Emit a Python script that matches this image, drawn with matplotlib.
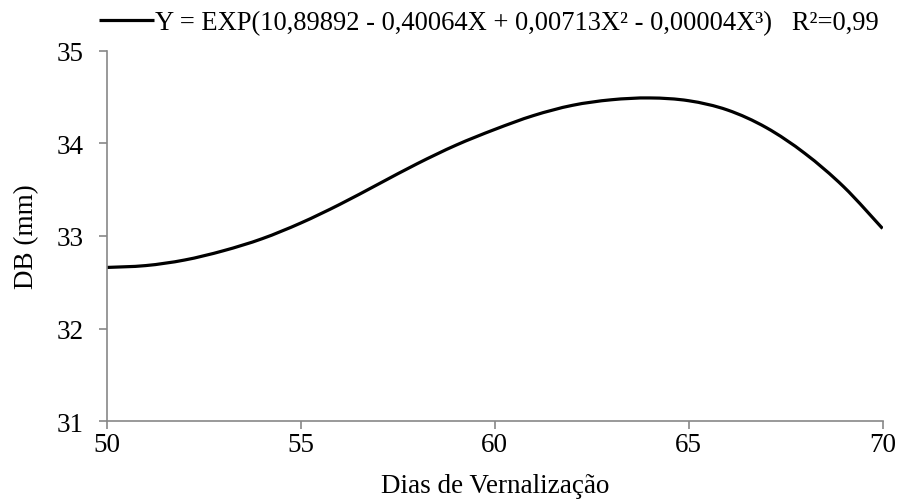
import matplotlib
matplotlib.use('Agg')
import matplotlib.pyplot as plt
from matplotlib.path import Path
from matplotlib.patches import PathPatch
from matplotlib.lines import Line2D

plt.rcParams['font.family'] = ['Liberation Serif', 'DejaVu Serif']

# Dias de vernalização x diâmetro de bulbo (curva ajustada)
dias = [50, 51, 52, 53, 54, 55, 56, 57, 58, 59, 60,
        61, 62, 63, 64, 65, 66, 67, 68, 69, 70]
db_mm = [32.66, 32.68, 32.74, 32.84, 32.97, 33.14, 33.34, 33.56, 33.78, 33.98, 34.15,
         34.30, 34.41, 34.47, 34.49, 34.46, 34.36, 34.17, 33.89, 33.53, 33.08]

x_ticks = [50, 55, 60, 65, 70]
y_ticks = [31, 32, 33, 34, 35]
legenda = "Y = EXP(10,89892 - 0,40064X + 0,00713X² - 0,00004X³)   R²=0,99"

cinza = '#878787'


def linha_suave(xs, ys, t=1/6):
    # linha suavizada (Bezier cúbica pelos pontos, como no Excel)
    n = len(xs)
    verts = [(xs[0], ys[0])]
    codes = [Path.MOVETO]
    for i in range(n - 1):
        x0, y0 = xs[max(i - 1, 0)], ys[max(i - 1, 0)]
        x1, y1 = xs[i], ys[i]
        x2, y2 = xs[i + 1], ys[i + 1]
        x3, y3 = xs[min(i + 2, n - 1)], ys[min(i + 2, n - 1)]
        c1 = (x1 + (x2 - x0) * t, y1 + (y2 - y0) * t)
        c2 = (x2 - (x3 - x1) * t, y2 - (y3 - y1) * t)
        verts += [c1, c2, (x2, y2)]
        codes += [Path.CURVE4] * 3
    return Path(verts, codes)


fig = plt.figure(figsize=(8.99, 5.02), dpi=100)
ax = fig.add_axes([0.119, 0.159, 0.8627, 0.738])

curva = PathPatch(linha_suave(dias, db_mm), facecolor='none', edgecolor='black',
                  linewidth=2.3, capstyle='butt', transform=ax.transData)
ax.add_patch(curva)

ax.set_xlim(50, 70)
ax.set_ylim(31, 35)
ax.set_xticks(x_ticks)
ax.set_yticks(y_ticks)

for lado in ['top', 'right']:
    ax.spines[lado].set_visible(False)
for lado in ['left', 'bottom']:
    ax.spines[lado].set_color(cinza)
    ax.spines[lado].set_linewidth(1.2)

ax.tick_params(axis='both', direction='out', length=6, width=1.2, color=cinza,
               labelsize=19.5, labelcolor='black')
ax.tick_params(axis='x', pad=2)
ax.tick_params(axis='y', pad=11)

ax.set_xlabel('Dias de Vernalização', fontsize=19.5, labelpad=11)
ax.set_ylabel('DB (mm)', fontsize=19.5, labelpad=12)

handle = Line2D([], [], color='black', linewidth=2.3, solid_capstyle='butt')
fig.legend([handle], [legenda], loc='center', bbox_to_anchor=(0.544, 0.952),
           frameon=False, fontsize=19.1, handlelength=2.05, handletextpad=0.05,
           borderaxespad=0)

fig.savefig('out.png', dpi=100)
